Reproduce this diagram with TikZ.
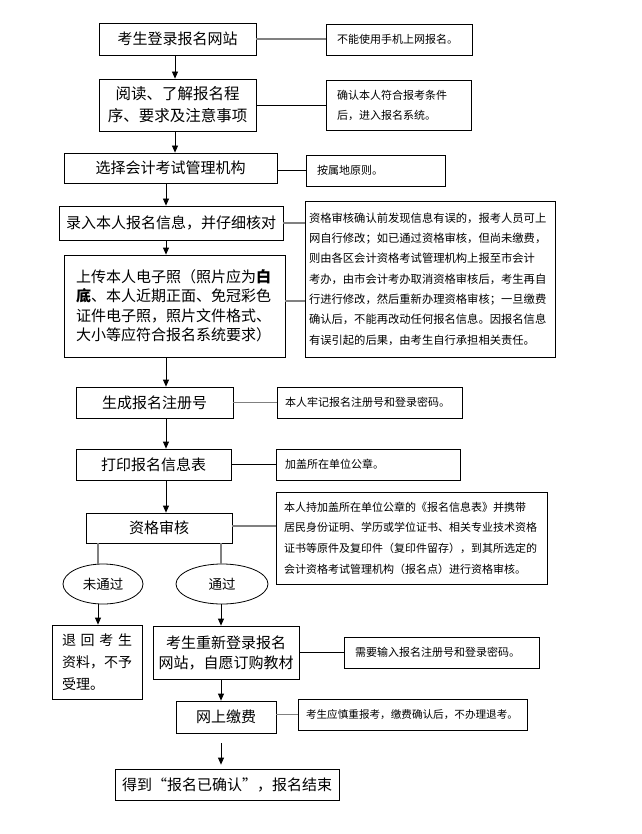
\documentclass[tikz,border=0pt]{standalone}
\usepackage{fontspec}
\setmainfont{Noto Sans CJK SC}
\usetikzlibrary{arrows.meta,shapes.geometric}
\begin{document}
\begin{tikzpicture}[x=1pt,y=-1pt,
  box/.style={draw, line width=0.8pt, inner sep=0pt, align=center, font=\fontsize{15}{20}\selectfont},
  note/.style={draw, line width=0.8pt, align=left, inner ysep=0pt, font=\fontsize{11}{20}\selectfont},
  oval/.style={draw, ellipse, line width=0.8pt, inner sep=0pt, font=\fontsize{13.5}{16}\selectfont},
  arr/.style={line width=0.8pt, -{Triangle[length=7pt,width=6pt]}},
  link/.style={line width=0.8pt},
  glink/.style={line width=1.5pt, draw=black!50}]
\fill[white] (0,0) rectangle (641,834);
\useasboundingbox (0,0) rectangle (641,834);

% main column
\node[box, minimum width=157pt, minimum height=32pt] (b1) at (177.5,39) {考生登录报名网站};
\node[box, minimum width=157pt, minimum height=52pt, font=\fontsize{15.5}{22}\selectfont] (b2) at (177.5,105) {阅读、了解报名程\\序、要求及注意事项};
\node[box, minimum width=213pt, minimum height=30pt] (b3) at (170.5,168) {选择会计考试管理机构};
\node[box, minimum width=224pt, minimum height=34pt] (b4) at (171,223) {录入本人报名信息，并仔细核对};
\node[box, minimum width=221pt, minimum height=102pt, align=left, inner xsep=12pt, text width=197pt, font=\fontsize{15}{19.5}\selectfont] (b5) at (174.5,306) {上传本人电子照（照片应为\textbf{白}\\\textbf{底}、本人近期正面、免冠彩色\\证件电子照，照片文件格式、\\大小等应符合报名系统要求）};
\node[box, minimum width=157pt, minimum height=31pt] (b6) at (154.5,402.5) {生成报名注册号};
\node[box, minimum width=155pt, minimum height=31pt] (b7) at (153.5,464.5) {打印报名信息表};
\node[box, minimum width=146pt, minimum height=30pt] (b8) at (159,528) {资格审核};
\node[oval, minimum width=80pt, minimum height=40pt] (e1) at (103,584) {未通过};
\node[oval, minimum width=92pt, minimum height=40pt] (e2) at (222,584) {通过};
\node[box, minimum width=90pt, minimum height=74pt, align=left, inner xsep=10pt, text width=70pt, font=\fontsize{14}{21.7}\selectfont] (b9) at (97,662) {\makebox[70pt][s]{退\hfill 回\hfill 考\hfill 生}\\资料，不予\\受理。};
\node[box, minimum width=146pt, minimum height=53pt] (b10) at (226,652.5) {考生重新登录报名\\网站，自愿订购教材};
\node[box, minimum width=100pt, minimum height=32pt] (b11) at (226,717) {网上缴费};
\node[box, minimum width=224pt, minimum height=31pt] (b12) at (227,784.5) {得到“报名已确认”，报名结束};

% notes
\node[note, minimum width=146pt, minimum height=31pt, inner xsep=11pt, text width=124pt] (n1) at (399,39.5) {不能使用手机上网报名。};
\node[note, minimum width=145pt, minimum height=50pt, inner xsep=11pt, text width=123pt] (n2) at (398.5,105) {确认本人符合报考条件\\后，进入报名系统。};
\node[note, minimum width=139pt, minimum height=31pt, inner xsep=11pt, text width=117pt] (n3) at (375.5,170.5) {按属地原则。};
\node[note, minimum width=250pt, minimum height=156pt, inner xsep=4pt, text width=242pt, font=\fontsize{11.3}{20.3}\selectfont] (n4) at (430,279) {资格审核确认前发现信息有误的，报考人员可上\\网自行修改；如已通过资格审核，但尚未缴费，\\则由各区会计资格考试管理机构上报至市会计\\考办，由市会计考办取消资格审核后，考生再自\\行进行修改，然后重新办理资格审核；一旦缴费\\确认后，不能再改动任何报名信息。因报名信息\\有误引起的后果，由考生自行承担相关责任。};
\node[note, minimum width=185pt, minimum height=31pt, inner xsep=8pt, text width=169pt] (n6) at (369.5,402.5) {本人牢记报名注册号和登录密码。};
\node[note, minimum width=184pt, minimum height=31pt, inner xsep=9pt, text width=166pt] (n7) at (368,464.5) {加盖所在单位公章。};
\node[note, minimum width=271pt, minimum height=92pt, inner xsep=8pt, text width=255pt, font=\fontsize{11}{20.7}\selectfont] (n8) at (411.5,538) {本人持加盖所在单位公章的《报名信息表》并携带\\居民身份证明、学历或学位证书、相关专业技术资格\\证书等原件及复印件（复印件留存），到其所选定的\\会计资格考试管理机构（报名点）进行资格审核。};
\node[note, minimum width=195pt, minimum height=31pt, inner xsep=11pt, text width=173pt] (n10) at (441.5,652.5) {需要输入报名注册号和登录密码。};
\node[note, minimum width=229pt, minimum height=31pt, inner xsep=8pt, text width=213pt, font=\fontsize{10.6}{20}\selectfont] (n11) at (412.5,714.5) {考生应慎重报考，缴费确认后，不办理退考。};

% spines
\coordinate (sA) at (175,0);
\coordinate (sB) at (166,0);
\coordinate (sL) at (98,0);
\coordinate (sR) at (221,0);

% arrows
\draw[arr] (b1.south -| sA) -- (b2.north -| sA);
\draw[arr] (b2.south -| sA) -- (b3.north -| sA);
\draw[arr] (b3.south -| sB) -- (b4.north -| sB);
\draw[arr] (b4.south -| sB) -- (b5.north -| sB);
\draw[arr] (b5.south -| sB) -- (b6.north -| sB);
\draw[arr] (b6.south -| sB) -- (b7.north -| sB);
\draw[arr] (b7.south -| sB) -- (b8.north -| sB);
\draw[glink] (b8.south -| sL) -- (e1.north -| sL);
\draw[glink] (b8.south -| sR) -- (e2.north -| sR);
\draw[arr] (e1.south -| sL) -- (b9.north -| sL);
\draw[arr] (e2.south -| sR) -- (b10.north -| sR);
\draw[arr] (b10.south -| sR) -- (b11.north -| sR);
\coordinate (g) at ([yshift=-10pt]b11.south);
\draw[arr, shorten >=4pt] (g -| sR) -- (b12.north -| sR);

% side links
\draw[glink] (b1.east) -- (b1.east -| n1.west);
\draw[link] (b2.east) -- (b2.east -| n2.west);
\draw[link] (b3.east |- n3.west) -- (n3.west);
\draw[glink] (b4.east) -- (b4.east -| n4.west);
\draw[glink] ([yshift=5pt]b5.east) -- ([yshift=5pt]b5.east -| n4.west);
\draw[glink] (b6.east) -- (b6.east -| n6.west);
\draw[link] (b7.east) -- (b7.east -| n7.west);
\draw[glink] ([yshift=2pt]b8.east) -- ([yshift=2pt]b8.east -| n8.west);
\draw[link] (b10.east) -- (b10.east -| n10.west);
\draw[glink] (b11.east |- n11.west) -- (n11.west);
\end{tikzpicture}
\end{document}
